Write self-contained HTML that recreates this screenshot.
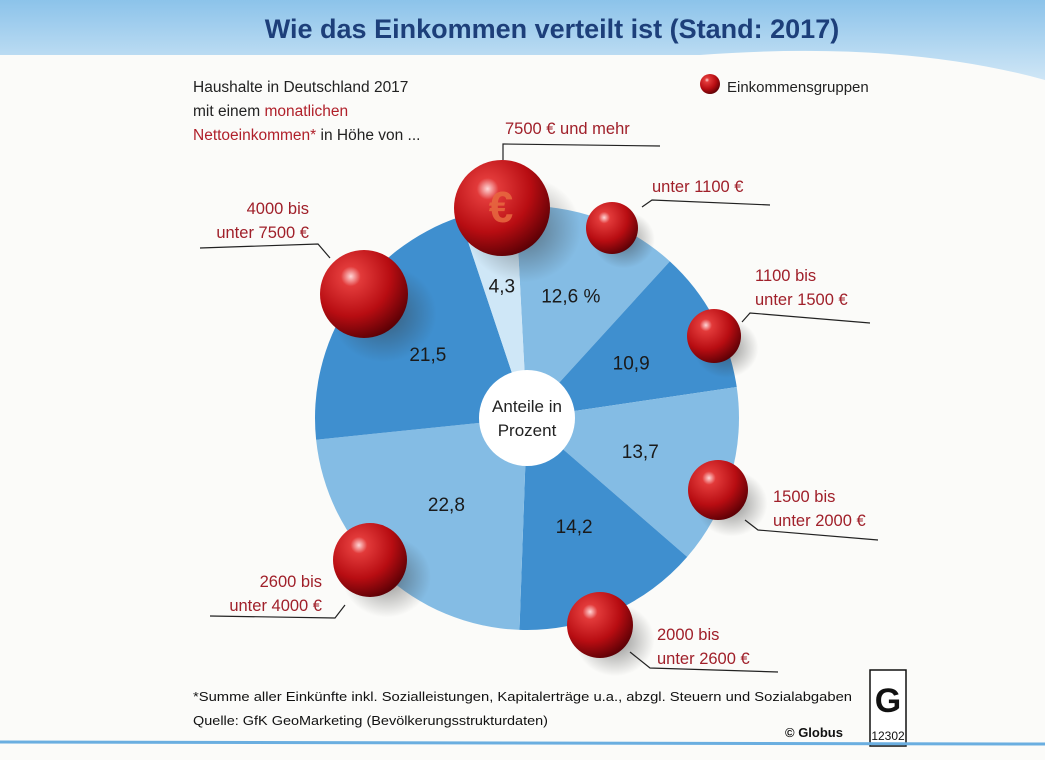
<!DOCTYPE html>
<html><head><meta charset="utf-8">
<style>
body{margin:0;width:1045px;height:760px;overflow:hidden;background:#fbfbf9;font-family:"Liberation Sans",sans-serif;}
svg{display:block}
</style></head>
<body>
<svg width="1045" height="760" viewBox="0 0 1045 760">
<defs>
<linearGradient id="band" x1="0" y1="0" x2="0" y2="1">
<stop offset="0" stop-color="#8cc3ea"/><stop offset="1" stop-color="#cfe6f6"/></linearGradient>
<radialGradient id="ball" cx="0.35" cy="0.3" r="0.75">
<stop offset="0" stop-color="#ffd6d6"/><stop offset="0.15" stop-color="#e23a3a"/><stop offset="0.6" stop-color="#b80d12"/><stop offset="1" stop-color="#5a0005"/></radialGradient>
<radialGradient id="shadow" cx="0.5" cy="0.5" r="0.5">
<stop offset="0" stop-color="#333" stop-opacity="0.55"/><stop offset="1" stop-color="#333" stop-opacity="0"/></radialGradient>
</defs>
<path d="M0 0 H1045 V80 Q900 40 700 55 L0 55 Z" fill="url(#band)"/>
<text x="552" y="38" text-anchor="middle" font-size="27" font-weight="bold" fill="#1d3f7a">Wie das Einkommen verteilt ist (Stand: 2017)</text>
<g font-size="15.5" fill="#222">
<text x="193" y="92">Haushalte in Deutschland 2017</text>
<text x="193" y="116">mit einem <tspan fill="#b0202a">monatlichen</tspan></text>
<text x="193" y="140"><tspan fill="#b0202a">Nettoeinkommen*</tspan> in Höhe von ...</text>
</g>
<circle cx="710" cy="84" r="10" fill="url(#ball)"/>
<text x="727" y="92" font-size="15" fill="#222">Einkommensgruppen</text>
<g id="pie"></g>
<circle cx="527" cy="418" r="48" fill="#fff"/>
<text x="527" y="412" text-anchor="middle" font-size="17" fill="#222">Anteile in</text>
<text x="527" y="436" text-anchor="middle" font-size="17" fill="#222">Prozent</text>
<g id="balls"></g>
<g id="labels" font-size="16.5" fill="#a0202a"></g>
<text x="501" y="222" text-anchor="middle" font-size="44" font-weight="bold" fill="#e86a40" opacity="0.85">€</text>
<text x="193" y="701" font-size="13" fill="#111" textLength="659" lengthAdjust="spacingAndGlyphs">*Summe aller Einkünfte inkl. Sozialleistungen, Kapitalerträge u.a., abzgl. Steuern und Sozialabgaben</text>
<text x="193" y="725" font-size="13" fill="#111" textLength="355" lengthAdjust="spacingAndGlyphs">Quelle: GfK GeoMarketing (Bevölkerungsstrukturdaten)</text>
<text x="785" y="737" font-size="13" font-weight="bold" fill="#111">© Globus</text>
<g>
<rect x="870" y="670" width="36" height="76" fill="#fff" stroke="#111" stroke-width="1.5"/>
<text x="888" y="712" text-anchor="middle" font-size="34" font-weight="bold" fill="#111">G</text>
<text x="888" y="740" text-anchor="middle" font-size="12" fill="#111">12302</text>
</g>
<line x1="0" y1="742" x2="1045" y2="744" stroke="#6aaee0" stroke-width="3"/>
</svg>
<script>
const categories=["unter 1100 €","1100 bis unter 1500 €","1500 bis unter 2000 €","2000 bis unter 2600 €","2600 bis unter 4000 €","4000 bis unter 7500 €","7500 € und mehr"];
const values=[12.6,10.9,13.7,14.2,22.8,21.5,4.3];
const valueLabels=["12,6 %","10,9","13,7","14,2","22,8","21,5","4,3"];
const colors=["#84bce4","#3f8fcf","#84bce4","#3f8fcf","#84bce4","#3f8fcf","#cfe7f7"];
const ns="http://www.w3.org/2000/svg";
const cx=527,cy=418,R=212,startDeg=-3;
const total=values.reduce((a,b)=>a+b,0);
function pt(deg,r){const a=(deg-90)*Math.PI/180;return[cx+r*Math.cos(a),cy+r*Math.sin(a)];}
const pie=document.getElementById('pie');
let acc=startDeg;
values.forEach((v,i)=>{
 const a0=acc,a1=acc+v/total*360;acc=a1;
 const p0=pt(a0,R),p1=pt(a1,R);
 const p=document.createElementNS(ns,'path');
 p.setAttribute('d',`M${cx},${cy} L${p0[0]},${p0[1]} A${R},${R} 0 ${a1-a0>180?1:0} 1 ${p1[0]},${p1[1]} Z`);
 p.setAttribute('fill',colors[i]);
 
 
 pie.appendChild(p);
 const m=(a0+a1)/2;const rr=i==6?135:(i==0?130:118);const t=pt(m,rr);
 const tx=document.createElementNS(ns,'text');
 tx.setAttribute('x',t[0]);tx.setAttribute('y',t[1]+7);
 tx.setAttribute('text-anchor','middle');tx.setAttribute('font-size','19');tx.setAttribute('fill','#1a1a1a');
 tx.textContent=valueLabels[i];
 
 
 pie.appendChild(tx);
});
const balls=[[612,228,26],[714,336,27],[718,490,30],[600,625,33],[370,560,37],[364,294,44],[502,208,48]];
const bg=document.getElementById('balls');
balls.forEach((b,i)=>{
 const s=document.createElementNS(ns,'ellipse');
 s.setAttribute('cx',b[0]+b[2]*0.45);s.setAttribute('cy',b[1]+b[2]*0.45);s.setAttribute('rx',b[2]*1.2);s.setAttribute('ry',b[2]*1.1);
 s.setAttribute('fill','url(#shadow)');
 
 
 bg.appendChild(s);
 const c=document.createElementNS(ns,'circle');
 c.setAttribute('cx',b[0]);c.setAttribute('cy',b[1]);c.setAttribute('r',b[2]);c.setAttribute('fill','url(#ball)');
 
 
 bg.appendChild(c);
});
const labs=[
 {l:["unter 1100 €"],x:652,y:192,a:"start",line:"M642,207 L652,200 L770,205"},
 {l:["1100 bis","unter 1500 €"],x:755,y:281,a:"start",line:"M742,322 L750,313 L870,323"},
 {l:["1500 bis","unter 2000 €"],x:773,y:502,a:"start",line:"M745,520 L758,530 L878,540"},
 {l:["2000 bis","unter 2600 €"],x:657,y:640,a:"start",line:"M630,652 L650,668 L778,672"},
 {l:["2600 bis","unter 4000 €"],x:322,y:587,a:"end",line:"M345,605 L335,618 L210,616"},
 {l:["4000 bis","unter 7500 €"],x:309,y:214,a:"end",line:"M330,258 L318,244 L200,248"},
 {l:["7500 € und mehr"],x:505,y:134,a:"start",line:"M503,160 L503,144 L660,146"}
];
const lg=document.getElementById('labels');
labs.forEach((o,i)=>{
 const t=document.createElementNS(ns,'text');
 t.setAttribute('x',o.x);t.setAttribute('y',o.y);t.setAttribute('text-anchor',o.a);
 o.l.forEach((s,j)=>{const ts=document.createElementNS(ns,'tspan');ts.setAttribute('x',o.x);ts.setAttribute('dy',j?24:0);ts.textContent=s;t.appendChild(ts);});
 
 
 lg.appendChild(t);
 const p=document.createElementNS(ns,'path');
 p.setAttribute('d',o.line);p.setAttribute('fill','none');p.setAttribute('stroke','#222');p.setAttribute('stroke-width','1.2');
 
 
 lg.appendChild(p);
});
</script>
</body></html>
